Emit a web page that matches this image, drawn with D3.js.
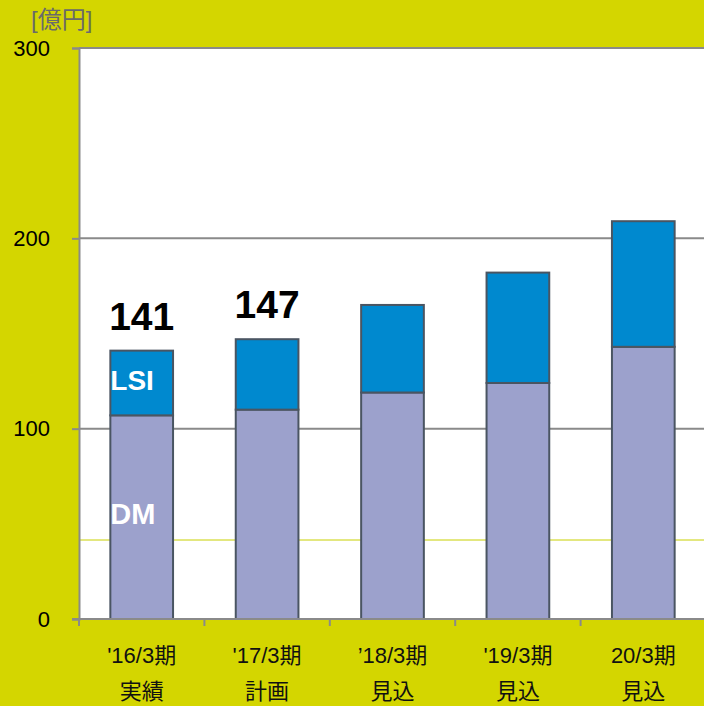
<!DOCTYPE html>
<html>
<head>
<meta charset="utf-8">
<script src="https://cdn.jsdelivr.net/npm/d3@7"></script>
<style>
  html, body { margin: 0; padding: 0; background: #d4d600; }
  svg { display: block; }
  text { font-family: "Liberation Sans", Arial, "Noto Sans CJK JP", sans-serif; }
</style>
</head>
<body>
<svg id="chart" width="704" height="706"></svg>
<script>
// Sales by segment, 100M yen
const periods = ["'16/3期", "'17/3期", "’18/3期", "'19/3期", "20/3期"];
const periodNotes = ["実績", "計画", "見込", "見込", "見込"];
const dmValues = [107, 110, 119, 124, 143];
const lsiValues = [34, 37, 46, 58, 66];
const totalLabels = [141, 147, null, null, null];
const yTicks = [0, 100, 200, 300];
const guideValue = [41.5];
const unitLabel = "[億円]";
const seriesNames = ["DM", "LSI"];

const svg = d3.select("#chart");
const W = 704, H = 706;
const m = { top: 48, right: -2, bottom: 87, left: 79 };

const x = d3.scaleBand()
  .domain(periods)
  .range([m.left, W - m.right])
  .paddingInner(0.5)
  .paddingOuter(0.25);

const y = d3.scaleLinear()
  .domain([0, 300])
  .range([H - m.bottom, m.top]);

// plot area
svg.append("rect")
  .attr("x", m.left).attr("y", y(300))
  .attr("width", W - m.left).attr("height", y(0) - y(300))
  .attr("fill", "#ffffff");

// horizontal guide line in the plot area
svg.selectAll(".guide").data(guideValue).enter().append("line")
  .attr("x1", m.left).attr("x2", W)
  .attr("y1", d => y(d)).attr("y2", d => y(d))
  .attr("stroke", "#c8d000").attr("stroke-width", 1);

// y axis with gridlines
const yAxis = svg.append("g")
  .attr("transform", `translate(${m.left},0)`)
  .call(d3.axisLeft(y).tickValues(yTicks).tickSize(7).tickPadding(22));
yAxis.select(".domain").attr("stroke", "#8a8a8a").attr("stroke-width", 2);
yAxis.selectAll(".tick line").attr("stroke", "#8a8a8a").attr("stroke-width", 2);
yAxis.selectAll(".tick text")
  .attr("fill", "#000").attr("font-size", 22)
  .style("font-family", '"Liberation Sans", Arial, sans-serif');

svg.append("g").selectAll("line").data(yTicks.filter(v => v > 0)).enter().append("line")
  .attr("x1", m.left).attr("x2", W)
  .attr("y1", d => y(d)).attr("y2", d => y(d))
  .attr("stroke", "#8a8a8a").attr("stroke-width", 2);

// stacked bars
const stackData = periods.map((p, i) => ({ period: p, DM: dmValues[i], LSI: lsiValues[i] }));
const series = d3.stack().keys(seriesNames)(stackData);
const colors = { DM: "#9ca1cc", LSI: "#0089cf" };

svg.append("g").selectAll("g").data(series).enter().append("g")
  .attr("fill", d => colors[d.key])
  .selectAll("rect").data(d => d).enter().append("rect")
  .attr("x", d => x(d.data.period))
  .attr("y", d => y(d[1]))
  .attr("width", x.bandwidth())
  .attr("height", d => y(d[0]) - y(d[1]))
  .attr("stroke", "#4a5562").attr("stroke-width", 2);

// x axis (category boundaries)
const xAxisG = svg.append("g");
xAxisG.append("line")
  .attr("x1", m.left - 7).attr("x2", W)
  .attr("y1", y(0)).attr("y2", y(0))
  .attr("stroke", "#8a8a8a").attr("stroke-width", 2);
xAxisG.selectAll(".xt").data(periods).enter().append("line")
  .attr("x1", (p, i) => m.left + i * x.step())
  .attr("x2", (p, i) => m.left + i * x.step())
  .attr("y1", y(0)).attr("y2", y(0) + 7)
  .attr("stroke", "#8a8a8a").attr("stroke-width", 2);

// category labels, two lines
const labels = svg.append("g").attr("text-anchor", "middle").attr("fill", "#111").attr("font-size", 22);
labels.selectAll(".p").data(periods).enter().append("text")
  .attr("x", d => x(d) + x.bandwidth() / 2)
  .attr("y", y(0) + 44)
  .text(d => d);
labels.selectAll(".n").data(periodNotes).enter().append("text")
  .attr("x", (d, i) => x(periods[i]) + x.bandwidth() / 2)
  .attr("y", y(0) + 80)
  .text(d => d);

// totals above the first bars
svg.append("g").selectAll("text").data(totalLabels.map((v, i) => ({ v, i })).filter(d => d.v !== null))
  .enter().append("text")
  .attr("x", d => x(periods[d.i]) + x.bandwidth() / 2)
  .attr("y", d => y(dmValues[d.i] + lsiValues[d.i]) - 21)
  .attr("text-anchor", "middle")
  .attr("font-size", 39).attr("font-weight", "bold").attr("fill", "#000")
  .text(d => d.v);

// series names inside the first bar
const first = periods[0];
svg.append("text")
  .attr("x", x(first))
  .attr("y", y(dmValues[0] + lsiValues[0] / 2) + 7)
  .attr("font-size", 28).attr("font-weight", "bold").attr("fill", "#fff")
  .text(seriesNames[1]);
svg.append("text")
  .attr("x", x(first))
  .attr("y", y(dmValues[0] / 2) + 7)
  .attr("font-size", 29).attr("font-weight", "bold").attr("fill", "#fff")
  .text(seriesNames[0]);

// unit
svg.append("text")
  .attr("x", 31).attr("y", 28)
  .attr("font-size", 24).attr("fill", "#6a6a6a")
  .text(unitLabel);
</script>
</body>
</html>
